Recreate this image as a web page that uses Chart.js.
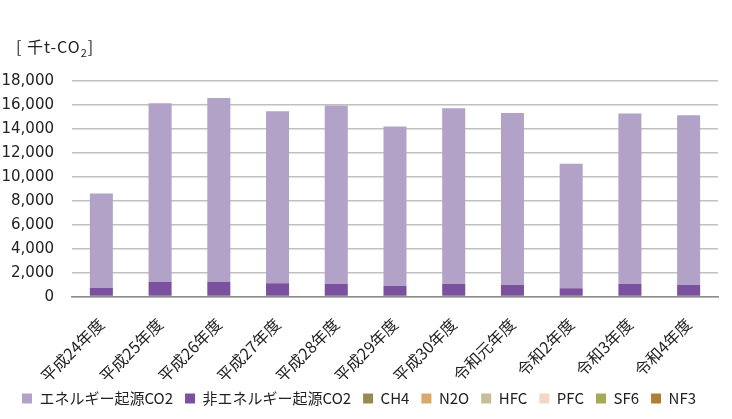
<!DOCTYPE html>
<html><head><meta charset="utf-8">
<script src="https://cdn.jsdelivr.net/npm/chart.js@4/dist/chart.umd.min.js"></script>
<style>
body{margin:0;background:#fff;}
#wrap{position:relative;width:732px;height:419px;}
#unit{position:absolute;left:16px;top:34px;font:16px "Noto Sans CJK JP",sans-serif;color:#222;letter-spacing:1px;}
#unit sub{font-size:11px;}
</style></head><body>
<div id="wrap"><canvas id="c" width="732" height="419"></canvas><div id="unit">[ 千t-CO<sub>2</sub>]</div></div>
<script>
const categories=["平成24年度","平成25年度","平成26年度","平成27年度","平成28年度","平成29年度","平成30年度","令和元年度","令和2年度","令和3年度","令和4年度"];
const totals=[8600,16150,16580,15480,15950,14200,15730,15320,11100,15280,15150];
const nonEnergyCO2=[720,1230,1250,1120,1050,880,1060,960,700,1060,960];
const energyCO2=totals.map((t,i)=>t-nonEnergyCO2[i]);
const ch4=[0,0,0,0,0,0,0,0,0,0,0];
const n2o=[0,0,0,0,0,0,0,0,0,0,0];
const hfc=[0,0,0,0,0,0,0,0,0,0,0];
const pfc=[0,0,0,0,0,0,0,0,0,0,0];
const sf6=[0,0,0,0,0,0,0,0,0,0,0];
const nf3=[0,0,0,0,0,0,0,0,0,0,0];
const yTicks=[0,2000,4000,6000,8000,10000,12000,14000,16000,18000];
const F='"Noto Sans CJK JP", sans-serif';
const legendOrder=["エネルギー起源CO2","非エネルギー起源CO2","CH4","N2O","HFC","PFC","SF6","NF3"];
const ds=(label,data,color)=>({label,data,backgroundColor:color,borderWidth:0,barPercentage:0.8,categoryPercentage:0.49});
new Chart(document.getElementById('c'),{
  type:'bar',
  data:{labels:categories,datasets:[
    ds("非エネルギー起源CO2",nonEnergyCO2,"#7b509f"),
    ds("エネルギー起源CO2",energyCO2,"#b2a2c8"),
    ds("CH4",ch4,"#978a52"),
    ds("N2O",n2o,"#d8a86c"),
    ds("HFC",hfc,"#c6be98"),
    ds("PFC",pfc,"#f2d6c6"),
    ds("SF6",sf6,"#a6a956"),
    ds("NF3",nf3,"#b07f33")
  ]},
  options:{
    responsive:false,animation:false,
    layout:{padding:{top:81,right:14,left:0,bottom:3}},
    plugins:{
      tooltip:{enabled:false},
      legend:{position:'bottom',
        labels:{boxWidth:10,boxHeight:10,padding:12,color:'#222',font:{family:F,size:15},
          sort:(a,b)=>legendOrder.indexOf(a.text)-legendOrder.indexOf(b.text)}}
    },
    scales:{
      x:{stacked:true,grid:{display:false},border:{color:'#8c8c8c',width:1.5},
        afterFit:(ax)=>{ax.height-=17;},
        ticks:{color:'#222',font:{family:F,size:16},maxRotation:45,minRotation:45,padding:10}},
      y:{stacked:true,min:0,max:18000,
        afterBuildTicks:(ax)=>{ax.ticks=yTicks.map(v=>({value:v}));},
        afterFit:(ax)=>{ax.width=72;},
        grid:{color:'#c0c0c0',lineWidth:1.5,drawTicks:false},border:{display:false},
        ticks:{color:'#222',font:{family:'"DejaVu Sans", sans-serif',size:15},padding:18,
          callback:(v)=>v.toLocaleString('en-US')}}
    }
  }
});
</script></body></html>
